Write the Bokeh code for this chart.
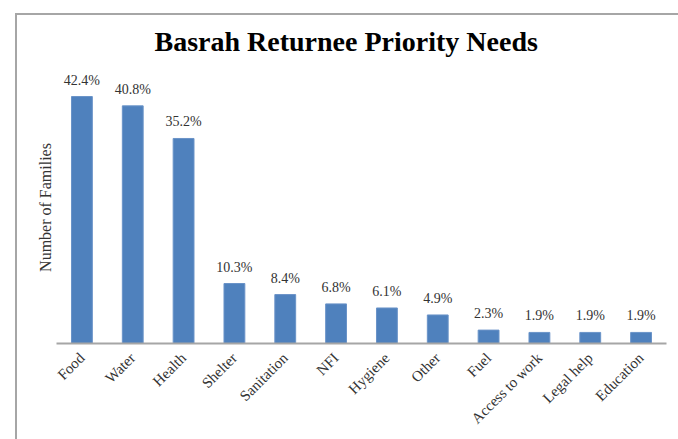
import math
from bokeh.plotting import figure
from bokeh.models import (ColumnDataSource, Range1d, FactorRange, FixedTicker,
                          Title, LabelSet, InlineStyleSheet)
from bokeh.embed import file_html
from bokeh.resources import INLINE

categories = ["Food", "Water", "Health", "Shelter", "Sanitation", "NFI", "Hygiene",
              "Other", "Fuel", "Access to work", "Legal help", "Education"]
values = [42.4, 40.8, 35.2, 10.3, 8.4, 6.8, 6.1, 4.9, 2.3, 1.9, 1.9, 1.9]
labels = ["42.4%", "40.8%", "35.2%", "10.3%", "8.4%", "6.8%", "6.1%", "4.9%",
          "2.3%", "1.9%", "1.9%", "1.9%"]
title_text = "Basrah Returnee Priority Needs"
y_label = "Number of Families"

SERIF = "Liberation Serif"

source = ColumnDataSource(dict(cat=categories, val=values, lab=labels))

p = figure(width=678, height=439, output_backend="svg", toolbar_location=None,
           x_range=FactorRange(*categories, range_padding=0),
           y_range=Range1d(0, 46.7),
           min_border_left=56, min_border_right=12, min_border_top=71, min_border_bottom=96)

p.title = Title(text=title_text, align="left", text_font=SERIF, text_font_size="28px",
                text_font_style="bold", text_color="#000000", standoff=30, offset=98)

p.vbar(x="cat", top="val", width=0.41, source=source, fill_color="#4F81BD",
       line_color="#6A93C8", line_width=1)

data_labels = LabelSet(x="cat", y="val", text="lab", source=source, text_align="center",
                       text_baseline="alphabetic", y_offset=12, text_font=SERIF,
                       text_font_size="14px", text_color="#333333")
p.add_layout(data_labels)

p.grid.visible = False
p.outline_line_color = None
p.background_fill_color = "white"
p.border_fill_color = "white"

xa = p.xaxis[0]
xa.axis_line_color = "#A6A6A6"
xa.axis_line_width = 2
xa.major_tick_line_color = None
xa.minor_tick_line_color = None
xa.major_tick_out = 0
xa.major_tick_in = 0
xa.major_label_orientation = math.pi / 4
xa.major_label_text_font = SERIF
xa.major_label_text_font_size = "15px"
xa.major_label_text_color = "#333333"
xa.major_label_standoff = 12

ya = p.yaxis[0]
ya.ticker = FixedTicker(ticks=[])
ya.axis_line_color = None
ya.major_tick_line_color = None
ya.minor_tick_line_color = None
ya.major_tick_out = 0
ya.major_tick_in = 0
ya.axis_label = y_label
ya.axis_label_text_font = SERIF
ya.axis_label_text_font_size = "16px"
ya.axis_label_text_font_style = "normal"
ya.axis_label_text_color = "#333333"
ya.axis_label_standoff = 3

# chart-area frame (left and top edges visible, the rest runs off the page)
p.stylesheets = [InlineStyleSheet(css=(
    ":host { position: relative; }"
    ":host::after { content: ''; position: absolute; left: 14.5px; top: 13px; right: 0; bottom: 0;"
    " border-left: 2px solid #A6A6A6; border-top: 2px solid #A6A6A6; pointer-events: none; }"
))]

open("out.html", "w").write(file_html(p, INLINE))
